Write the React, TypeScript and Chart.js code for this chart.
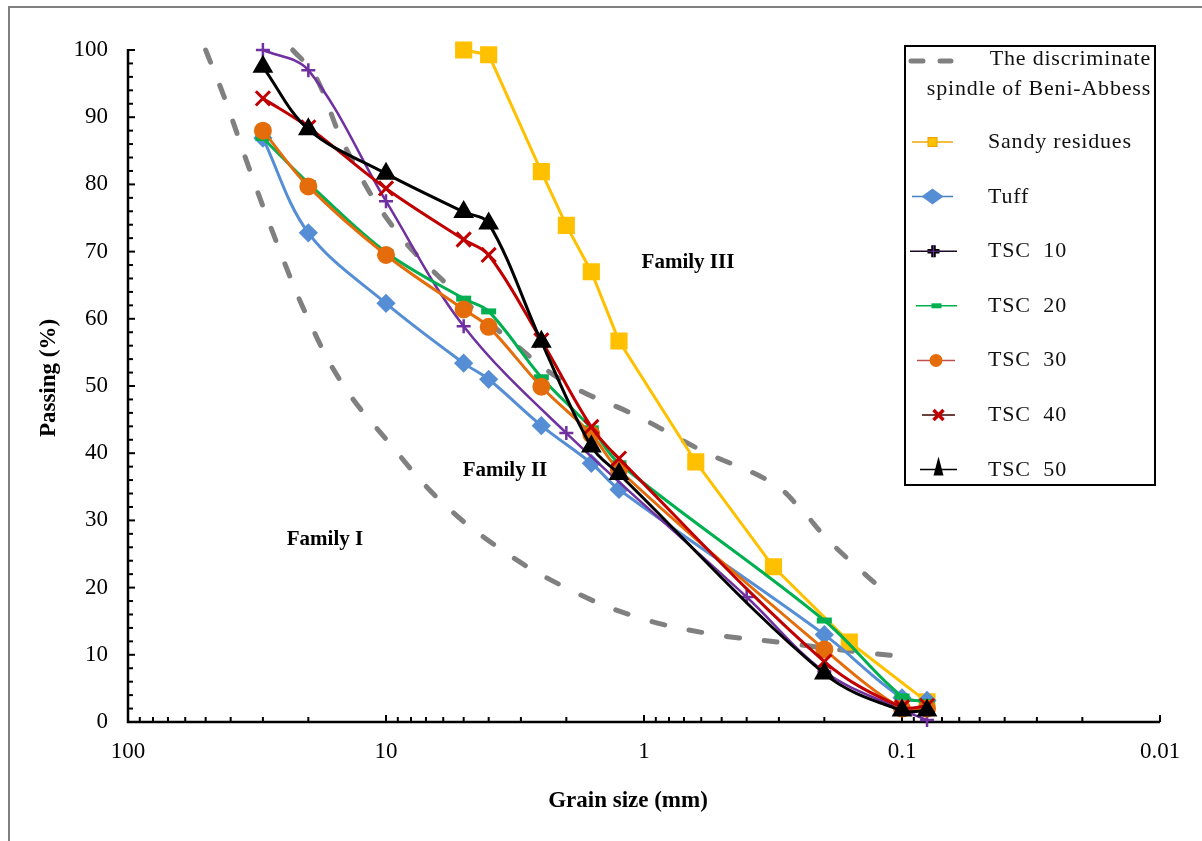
import React, { useEffect, useRef } from 'react';
import { Chart, registerables } from 'chart.js';

Chart.register(...registerables);

const FONT = '"Liberation Serif", "Times New Roman", serif';

// ---------- axis ticks ----------
const xTickValues = [100, 10, 1, 0.1, 0.01];
const xTickLabels = ['100', '10', '1', '0.1', '0.01'];
const yTickValues = [0, 10, 20, 30, 40, 50, 60, 70, 80, 90, 100];

// ---------- text ----------
const xTitle = 'Grain size (mm)';
const yTitle = 'Passing (%)';
const familyLabels = ['Family I', 'Family II', 'Family III'];
const spindleLabel = ['The discriminate', 'spindle of Beni-Abbess'];
const seriesNames = ['Sandy residues', 'Tuff', 'TSC  10', 'TSC  20', 'TSC  30', 'TSC  40', 'TSC  50'];

// ---------- data (grain size mm, passing %) ----------
const sandySizes = [5, 4, 2.5, 2, 1.6, 1.25, 0.63, 0.315, 0.16, 0.08];
const sandyPassing = [100, 99.3, 81.9, 73.9, 67.0, 56.7, 38.7, 23.1, 11.9, 3.0];

const tuffSizes = [30, 20, 10, 5, 4, 2.5, 1.6, 1.25, 0.2, 0.1, 0.08];
const tuffPassing = [86.9, 72.8, 62.3, 53.4, 51.0, 44.1, 38.5, 34.6, 13.0, 3.6, 3.2];

const tsc10Sizes = [30, 20, 10, 5, 2, 0.4, 0.2, 0.1, 0.08];
const tsc10Passing = [100, 97.0, 77.5, 58.9, 43.0, 18.6, 7.5, 1.8, 0.3];

const tscSizes = [30, 20, 10, 5, 4, 2.5, 1.6, 1.25, 0.2, 0.1, 0.08];
const tsc20Passing = [86.9, 80.2, 69.9, 63.0, 61.1, 51.3, 43.7, 38.5, 15.1, 3.8, 3.0];
const tsc30Passing = [88.0, 79.7, 69.5, 61.4, 58.8, 49.9, 42.8, 37.5, 10.8, 2.0, 2.0];
const tsc40Passing = [92.8, 88.5, 79.4, 71.8, 69.5, 56.8, 43.9, 39.2, 9.0, 2.2, 2.4];
const tsc50Passing = [97.5, 88.2, 81.6, 75.9, 74.2, 56.6, 41.0, 36.9, 7.2, 1.7, 1.7];

// discriminate spindle (two bounding curves)
const spindleLowSizes = [50, 42, 33.7, 26.5, 20.2, 14.8, 9.8, 6.18, 3.68, 2.06, 1.1, 0.57, 0.289, 0.145, 0.102];
const spindleLowPassing = [100, 92.6, 82.1, 71.3, 60.3, 50.4, 41.7, 33.0, 26.0, 20.2, 15.8, 13.2, 11.8, 10.4, 9.8];
const spindleHighSizes = [23, 18.9, 14.4, 9.4, 5.65, 3.3, 1.99, 1.06, 0.59, 0.319, 0.248, 0.198, 0.156, 0.116];
const spindleHighPassing = [100, 96.3, 85.6, 73.7, 64.7, 56.8, 50.4, 45.5, 40.3, 35.6, 31.8, 27.5, 23.7, 19.3];

const pts = (xs: number[], ys: number[]) => xs.map((x, i) => ({ x, y: ys[i] }));

const overlay = {
  id: 'overlay',
  beforeDatasetsDraw(chart: any) {
    const ctx = chart.ctx as CanvasRenderingContext2D;
    const xs = chart.scales.x;
    const ys = chart.scales.y;
    const ca = chart.chartArea;
    ctx.save();
    // outer frame
    ctx.strokeStyle = '#7f7f7f';
    ctx.lineWidth = 2;
    ctx.beginPath();
    ctx.moveTo(9, 841);
    ctx.lineTo(9, 7);
    ctx.lineTo(1202, 7);
    ctx.stroke();

    ctx.strokeStyle = '#000';
    ctx.lineWidth = 2;
    // x ticks
    for (let e = -2; e <= 1; e++) {
      for (let k = 1; k <= 9; k++) {
        const v = k * Math.pow(10, e);
        const px = xs.getPixelForValue(v);
        const len = k === 1 ? 7 : 5;
        ctx.beginPath();
        ctx.moveTo(px, ca.bottom);
        ctx.lineTo(px, ca.bottom - len);
        ctx.stroke();
      }
    }
    const p100 = xs.getPixelForValue(100);
    ctx.beginPath();
    ctx.moveTo(p100, ca.bottom);
    ctx.lineTo(p100, ca.bottom - 7);
    ctx.stroke();
    // y ticks
    for (let v = 0; v <= 100; v += 2) {
      const py = ys.getPixelForValue(v);
      const len = v % 10 === 0 ? 7 : 5;
      ctx.beginPath();
      ctx.moveTo(ca.left, py);
      ctx.lineTo(ca.left + len, py);
      ctx.stroke();
    }
    // axis lines
    ctx.lineWidth = 2.5;
    ctx.beginPath();
    ctx.moveTo(ca.left, ys.getPixelForValue(100) - 1);
    ctx.lineTo(ca.left, ca.bottom);
    ctx.lineTo(ca.right, ca.bottom);
    ctx.stroke();
    ctx.restore();
  },
  afterDraw(chart: any) {
    const ctx = chart.ctx as CanvasRenderingContext2D;
    ctx.save();
    ctx.fillStyle = '#000';
    // axis titles
    ctx.font = `bold 23px ${FONT}`;
    ctx.textAlign = 'center';
    ctx.textBaseline = 'alphabetic';
    ctx.fillText(xTitle, 628, 807);
    ctx.save();
    ctx.translate(55, 378);
    ctx.rotate(-Math.PI / 2);
    ctx.fillText(yTitle, 0, 0);
    ctx.restore();
    // family labels
    ctx.font = `bold 21px ${FONT}`;
    ctx.fillText(familyLabels[0], 325, 545);
    ctx.fillText(familyLabels[1], 505, 476);
    ctx.fillText(familyLabels[2], 688, 268);

    // legend
    ctx.lineWidth = 2;
    ctx.strokeStyle = '#000';
    ctx.strokeRect(905, 46, 250, 439);
    ctx.font = `22px ${FONT}`;
    (ctx as any).letterSpacing = '0.8px';
    ctx.fillStyle = '#111';
    ctx.textAlign = 'right';
    ctx.fillText(spindleLabel[0], 1151, 65);
    ctx.fillText(spindleLabel[1], 1151, 95);
    ctx.textAlign = 'left';
    // dashed sample
    ctx.strokeStyle = '#808080';
    ctx.lineWidth = 5;
    ctx.lineCap = 'round';
    ctx.beginPath();
    ctx.moveTo(911, 61); ctx.lineTo(923, 61);
    ctx.moveTo(940, 61); ctx.lineTo(951, 61);
    ctx.stroke();
    ctx.lineCap = 'butt';

    const lineCols = ['#F0A800', '#4A7EBB', '#1a0a24', '#00B050', '#C0504D', '#3a0000', '#000000'];
    const lx0 = [912, 912, 910, 916, 917, 922, 920];
    const lx1 = [953, 953, 957, 957, 955, 955, 957];
    for (let i = 0; i < seriesNames.length; i++) {
      const y = 142 + i * 54.6;
      ctx.strokeStyle = lineCols[i];
      ctx.lineWidth = 1.5;
      ctx.beginPath();
      ctx.moveTo(lx0[i], y);
      ctx.lineTo(lx1[i], y);
      ctx.stroke();
      const cx = (lx0[i] + lx1[i]) / 2;
      if (i === 0) {
        ctx.fillStyle = '#FFC000';
        ctx.fillRect(cx - 4.5, y - 4.5, 9, 9);
        ctx.strokeStyle = '#E8A000';
        ctx.lineWidth = 1;
        ctx.strokeRect(cx - 4.5, y - 4.5, 9, 9);
      } else if (i === 1) {
        ctx.fillStyle = '#558ED5';
        ctx.beginPath();
        ctx.moveTo(cx - 11, y); ctx.lineTo(cx, y - 8); ctx.lineTo(cx + 11, y); ctx.lineTo(cx, y + 8);
        ctx.closePath();
        ctx.fill();
      } else if (i === 2) {
        ctx.strokeStyle = '#000';
        ctx.lineWidth = 4.5;
        ctx.beginPath();
        ctx.moveTo(cx - 6, y); ctx.lineTo(cx + 6, y);
        ctx.moveTo(cx, y - 6); ctx.lineTo(cx, y + 6);
        ctx.stroke();
        ctx.strokeStyle = '#7030A0';
        ctx.lineWidth = 1;
        ctx.stroke();
      } else if (i === 3) {
        ctx.fillStyle = '#00B050';
        ctx.fillRect(cx - 5, y - 2.5, 10, 5);
      } else if (i === 4) {
        ctx.fillStyle = '#E46C0A';
        ctx.beginPath();
        ctx.arc(cx, y, 6.5, 0, Math.PI * 2);
        ctx.fill();
      } else if (i === 5) {
        ctx.strokeStyle = '#C00000';
        ctx.lineWidth = 3.5;
        ctx.beginPath();
        ctx.moveTo(cx - 5, y - 5); ctx.lineTo(cx + 5, y + 5);
        ctx.moveTo(cx + 5, y - 5); ctx.lineTo(cx - 5, y + 5);
        ctx.stroke();
      } else {
        ctx.fillStyle = '#000';
        ctx.beginPath();
        ctx.moveTo(cx, y - 13); ctx.lineTo(cx + 5, y + 6); ctx.lineTo(cx - 5, y + 6);
        ctx.closePath();
        ctx.fill();
      }
      ctx.fillStyle = '#111';
      ctx.fillText(seriesNames[i], 988, y + 6);
    }
    ctx.restore();
  },
};

export default function App() {
  const ref = useRef<HTMLCanvasElement>(null);
  useEffect(() => {
    const tickFont = { family: FONT, size: 23 };
    const spindleStyle = {
      borderColor: '#808080',
      borderWidth: 5,
      borderDash: [13, 25],
      borderCapStyle: 'round' as const,
      pointRadius: 0,
      tension: 0.4,
      order: 20,
      clip: false as const,
    };
    const chart = new Chart(ref.current!, {
      type: 'line',
      data: {
        datasets: [
          { label: 'spindle-low', data: pts(spindleLowSizes, spindleLowPassing), ...spindleStyle },
          { label: 'spindle-high', data: pts(spindleHighSizes, spindleHighPassing), ...spindleStyle },
          {
            label: seriesNames[0], data: pts(sandySizes, sandyPassing),
            borderColor: '#FFC000', borderWidth: 3, tension: 0,
            pointStyle: 'rect', pointRadius: 10, pointBackgroundColor: '#FFC000', pointBorderColor: '#FFC000',
            order: 8, clip: false,
          },
          {
            label: seriesNames[1], data: pts(tuffSizes, tuffPassing),
            borderColor: '#558ED5', borderWidth: 3, tension: 0.35,
            pointStyle: 'rectRot', pointRadius: 7.5, pointBackgroundColor: '#558ED5', pointBorderColor: '#558ED5',
            order: 7, clip: false,
          },
          {
            label: seriesNames[2], data: pts(tsc10Sizes, tsc10Passing),
            borderColor: '#7030A0', borderWidth: 2.5, tension: 0.35,
            pointStyle: 'cross', pointRadius: 7, pointBorderWidth: 2.5, pointBorderColor: '#7030A0',
            order: 6, clip: false,
          },
          {
            label: seriesNames[3], data: pts(tscSizes, tsc20Passing),
            borderColor: '#00B050', borderWidth: 3, tension: 0.35,
            pointStyle: 'line', pointRadius: 7.5, pointBorderWidth: 6, pointBorderColor: '#00B050',
            order: 5, clip: false,
          },
          {
            label: seriesNames[4], data: pts(tscSizes, tsc30Passing),
            borderColor: '#E46C0A', borderWidth: 3, tension: 0.35,
            pointStyle: 'circle', pointRadius: 7.5, pointBackgroundColor: '#E46C0A', pointBorderColor: '#E46C0A',
            order: 4, clip: false,
          },
          {
            label: seriesNames[5], data: pts(tscSizes, tsc40Passing),
            borderColor: '#C00000', borderWidth: 3, tension: 0.35,
            pointStyle: 'crossRot', pointRadius: 10, pointBorderWidth: 3, pointBorderColor: '#C00000',
            order: 3, clip: false,
          },
          {
            label: seriesNames[6], data: pts(tscSizes, tsc50Passing),
            borderColor: '#000000', borderWidth: 3, tension: 0.35,
            pointStyle: 'triangle', pointRadius: 9, pointBackgroundColor: '#000000', pointBorderColor: '#000000',
            order: 2, clip: false,
          },
        ],
      },
      options: {
        responsive: false,
        animation: false,
        devicePixelRatio: 1,
        layout: { padding: { left: 0, top: 50, right: 42, bottom: 0 } },
        plugins: { legend: { display: false }, tooltip: { enabled: false } },
        events: [],
        scales: {
          x: {
            type: 'logarithmic',
            reverse: true,
            min: 0.01,
            max: 100,
            grid: { display: false, drawTicks: false },
            border: { display: false },
            afterBuildTicks: (s: any) => { s.ticks = xTickValues.map((v) => ({ value: v })); },
            afterFit: (s: any) => { s.height = 119; },
            ticks: {
              autoSkip: false, maxRotation: 0, minRotation: 0, padding: 16, color: '#000', font: tickFont,
              callback: (_v: any, i: number) => xTickLabels[i],
            },
          },
          y: {
            type: 'linear',
            min: 0,
            max: 100,
            grid: { display: false, drawTicks: false },
            border: { display: false },
            afterBuildTicks: (s: any) => { s.ticks = yTickValues.map((v) => ({ value: v })); },
            afterFit: (s: any) => { s.width = 128; },
            ticks: { padding: 20, color: '#000', font: tickFont, callback: (v: any) => String(v) },
          },
        },
      },
      plugins: [overlay],
    } as any);
    return () => chart.destroy();
  }, []);
  return (
    <canvas
      ref={ref}
      width={1202}
      height={841}
      style={{ position: 'absolute', left: 0, top: 0, width: 1202, height: 841 }}
    />
  );
}
